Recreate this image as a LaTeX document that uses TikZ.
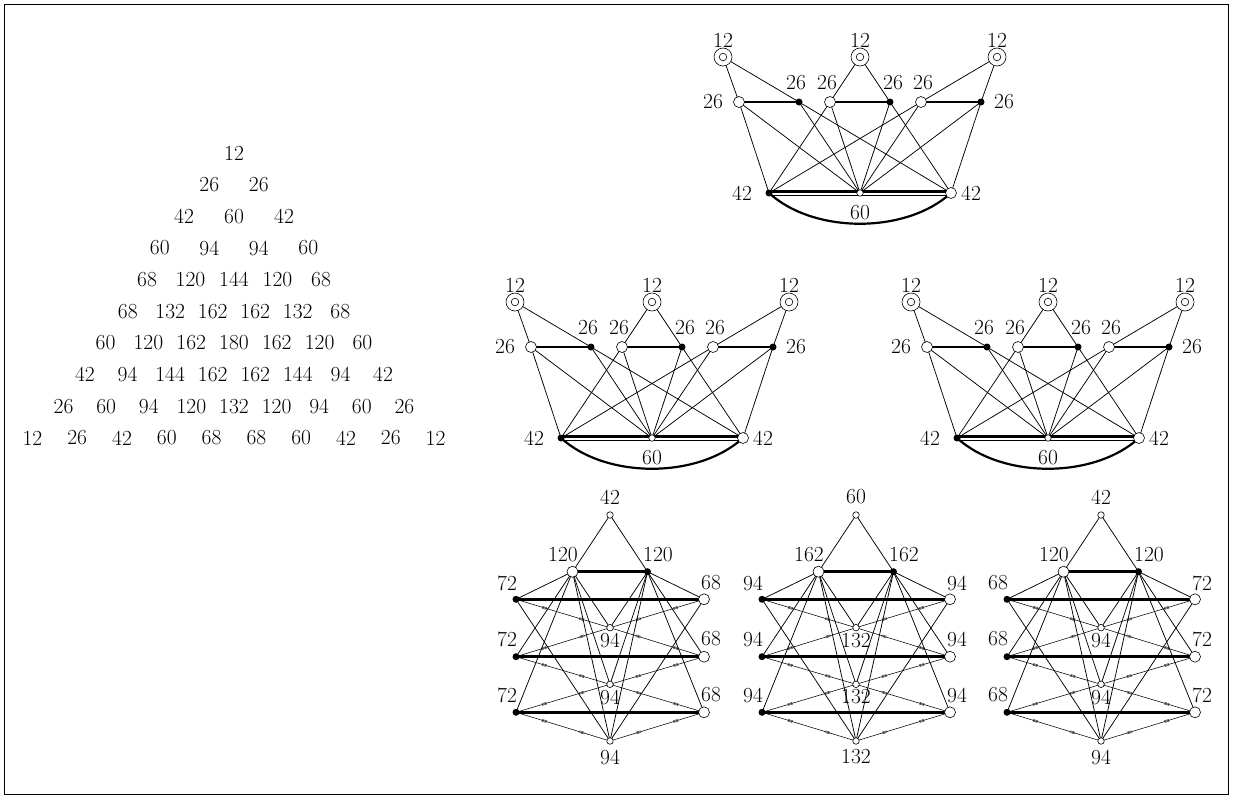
\documentclass[tikz,border=0pt]{standalone}
\usepackage{fontspec}
\usetikzlibrary{decorations.markings,calc}
\tikzset{
  thinedge/.style={line width=0.75pt},
  thickedge/.style={line width=2.5pt},
  markedge/.style={line width=0.55pt, postaction={decorate},
    decoration={markings,
      mark=at position 0.3 with {\draw[line width=0.35pt] (-2.5pt,0.9pt)--(2.5pt,0.9pt) (-2.5pt,-0.9pt)--(2.5pt,-0.9pt);},
      mark=at position 0.7 with {\draw[line width=0.35pt] (-2.5pt,0.9pt)--(2.5pt,0.9pt) (-2.5pt,-0.9pt)--(2.5pt,-0.9pt);}}},
  dotv/.style={circle, fill=black, inner sep=0pt, minimum size=7pt},
  ringv/.style={circle, draw, line width=0.6pt, fill=white, inner sep=0pt, minimum size=11pt,
    path picture={\fill (path picture bounding box.center) circle (2pt);}},
  dringv/.style={circle, draw, line width=0.6pt, fill=white, inner sep=0pt, minimum size=18pt,
    path picture={\draw[line width=0.6pt] (path picture bounding box.center) circle (3.8pt);
                  \fill (path picture bounding box.center) circle (1pt);}},
  smallv/.style={circle, draw, line width=0.6pt, fill=white, inner sep=0pt, minimum size=6.5pt,
    path picture={\fill (path picture bounding box.center) circle (0.7pt);}},
  lab/.style={font=\fontsize{21.5}{25}\selectfont, inner sep=0pt},
}
% crown graph: #1 prefix, #2 centre x, #3 top y
\newcommand\crownG[3]{%
\begin{scope}[shift={(#2,#3)}]
  \coordinate (#1t1) at (-137,0);
  \coordinate (#1t2) at (0,0);
  \coordinate (#1t3) at (137,0);
  \coordinate (#1s1) at (-121,45);
  \coordinate (#1s2) at (-61,45);
  \coordinate (#1s3) at (-30,45);
  \coordinate (#1s4) at (30,45);
  \coordinate (#1s5) at (61,45);
  \coordinate (#1s6) at (121,45);
  \coordinate (#1fL) at (-91,136);
  \coordinate (#1fM) at (0,136);
  \coordinate (#1fR) at (91,136);
  \foreach \a/\b in {t1/s1,t1/s2,t2/s3,t2/s4,t3/s5,t3/s6,fL/s1,fL/s3,fL/s5,fR/s2,fR/s4,fR/s6,
                     fM/s1,fM/s2,fM/s3,fM/s4,fM/s5,fM/s6}
    \draw[thinedge] (#1\a) -- (#1\b);
  \foreach \a/\b in {s1/s2,s3/s4,s5/s6}
    \draw[thickedge] (#1\a) -- (#1\b);
  \draw[line width=2.2pt] ([yshift=1.6pt]#1fL) -- ([yshift=1.6pt]#1fR);
  \draw[thinedge] ([yshift=-2.2pt]#1fL) -- ([yshift=-2.2pt]#1fR);
  \draw[line width=2.2pt] (#1fL) .. controls +(45,41) and +(-45,41) .. (#1fR);
  \node[dringv] (#1n1) at (#1t1) {};
  \node[dringv] (#1n2) at (#1t2) {};
  \node[dringv] (#1n3) at (#1t3) {};
  \node[ringv] (#1m1) at (#1s1) {};
  \node[dotv]  (#1m2) at (#1s2) {};
  \node[ringv] (#1m3) at (#1s3) {};
  \node[dotv]  (#1m4) at (#1s4) {};
  \node[ringv] (#1m5) at (#1s5) {};
  \node[dotv]  (#1m6) at (#1s6) {};
  \node[dotv]  (#1b1) at (#1fL) {};
  \node[smallv] (#1b2) at (#1fM) {};
  \node[ringv] (#1b3) at (#1fR) {};
  \node[lab] (#1l1) at (-137,-17) {12};
  \node[lab] (#1l2) at (0,-17) {12};
  \node[lab] (#1l3) at (137,-17) {12};
  \node[lab] (#1l4) at (-147,45) {26};
  \node[lab] (#1l5) at (-64,26) {26};
  \node[lab] (#1l6) at (-33,26) {26};
  \node[lab] (#1l7) at (33,26) {26};
  \node[lab] (#1l8) at (63,26) {26};
  \node[lab] (#1l9) at (144,45) {26};
  \node[lab] (#1l10) at (-118,136) {42};
  \node[lab] (#1l11) at (111,136) {42};
  \node[lab] (#1l12) at (0,156) {60};
\end{scope}}
% bottom graph: #1 prefix, #2 centre x, #3 top, #4 second row, #5 left, #6 right, #7 middle
\newcommand\bottomG[7]{%
\begin{scope}[shift={(#2,0)}]
  \coordinate (#1T) at (0,515);
  \coordinate (#1A) at (-37.5,571.7);
  \coordinate (#1B) at (37.5,571.7);
  \coordinate (#1L1) at (-94,599.3);
  \coordinate (#1L2) at (-94,656.7);
  \coordinate (#1L3) at (-94,712.3);
  \coordinate (#1R1) at (94,599.3);
  \coordinate (#1R2) at (94,656.7);
  \coordinate (#1R3) at (94,712.3);
  \coordinate (#1M1) at (0,627.7);
  \coordinate (#1M2) at (0,684.3);
  \coordinate (#1M3) at (0,741);
  \foreach \a/\b in {T/A,T/B,A/L1,A/L2,A/L3,B/R1,B/R2,B/R3,A/M1,A/M2,A/M3,B/M1,B/M2,B/M3,L1/M3,R1/M3}
    \draw[thinedge] (#1\a) -- (#1\b);
  \foreach \a/\b in {A/B,L1/R1,L2/R2,L3/R3}
    \draw[thickedge] (#1\a) -- (#1\b);
  \foreach \a/\b in {L1/M1,M1/R2,L2/M1,M1/R1,L2/M2,M2/R3,L3/M2,M2/R2,L3/M3,M3/R3}
    \draw[markedge] (#1\a) -- (#1\b);
  \node[smallv] (#1vT) at (#1T) {};
  \node[ringv] (#1vA) at (#1A) {};
  \node[dotv] (#1vB) at (#1B) {};
  \foreach \i in {1,2,3}{
    \node[dotv] (#1vL\i) at (#1L\i) {};
    \node[ringv] (#1vR\i) at (#1R\i) {};
    \node[smallv] (#1vM\i) at (#1M\i) {};
  }
  \node[lab] (#1tT) at (0,497) {#3};
  \node[lab] (#1tA) at (-47,555) {#4};
  \node[lab] (#1tB) at (48,555) {#4};
  \node[lab] (#1tL1) at (-103,583) {#5};
  \node[lab] (#1tL2) at (-103,639) {#5};
  \node[lab] (#1tL3) at (-103,695) {#5};
  \node[lab] (#1tR1) at (101,583) {#6};
  \node[lab] (#1tR2) at (101,639) {#6};
  \node[lab] (#1tR3) at (101,695) {#6};
  \node[lab] (#1tM1) at (0,640.5) {#7};
  \node[lab] (#1tM2) at (0,697) {#7};
  \node[lab] (#1tM3) at (0,757) {#7};
\end{scope}}
\begin{document}
\begin{tikzpicture}[x=1pt,y=-1pt]
\useasboundingbox (0,0) rectangle (1233,798);
\draw[line width=1pt] (4.5,4.5) rectangle (1228.5,794.5);
% number triangle: values / column spacing per row
\foreach \row/\c [count=\k] in {{12}/50,{26,26}/49.5,{42,60,42}/50,{60,94,94,60}/49.5,
  {68,120,144,120,68}/43.5,{68,132,162,162,132,68}/42.5,{60,120,162,180,162,120,60}/42.8,
  {42,94,144,162,162,144,94,42}/42.6,{26,60,94,120,132,120,94,60,26}/42.6,
  {12,26,42,60,68,68,60,42,26,12}/44.8}{
  \foreach \v [count=\j] in \row {
    \node[lab] (tri-\k-\j) at ({234+(\j-1-(\k-1)/2)*\c},{153+(\k-1)*31.67}) {\v};
  }
}
\crownG{ga}{860}{57}
\crownG{gb}{652}{302}
\crownG{gc}{1048}{302}
\bottomG{ha}{610}{42}{120}{72}{68}{94}
\bottomG{hb}{856}{60}{162}{94}{94}{132}
\bottomG{hc}{1101}{42}{120}{68}{72}{94}
\end{tikzpicture}
\end{document}
